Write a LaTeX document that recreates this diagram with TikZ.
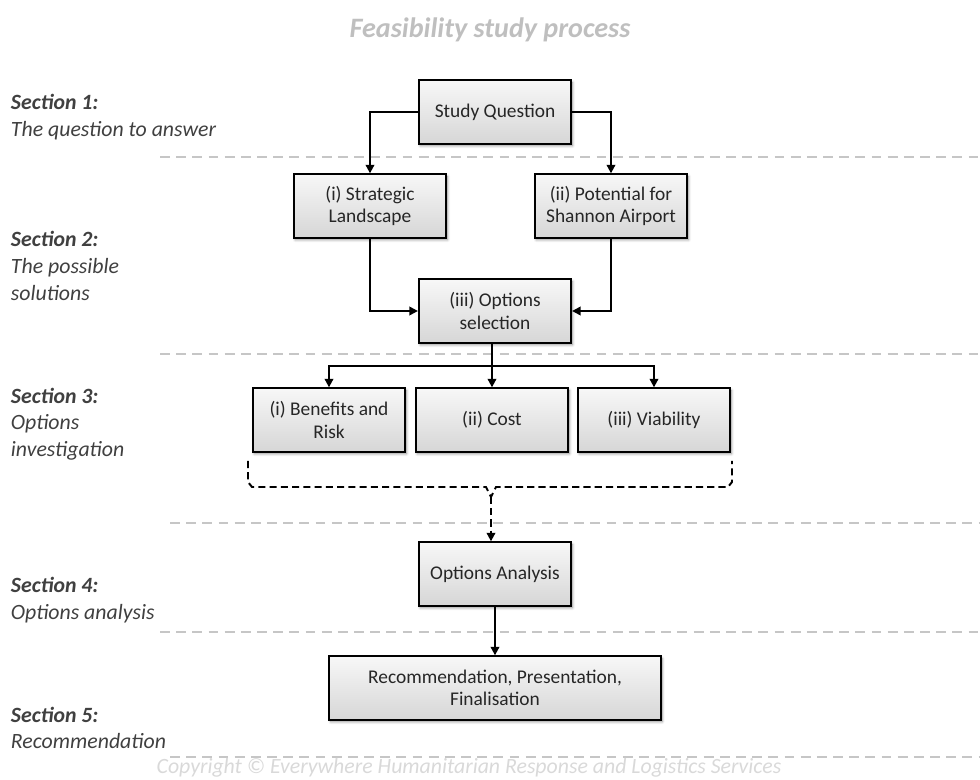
\documentclass[tikz,border=0pt]{standalone}
\usepackage{fontspec}
\setmainfont{Carlito}
\usepackage{tikz}
\usetikzlibrary{arrows.meta,positioning,calc,shadows.blur}

\begin{document}
\begin{tikzpicture}[
    x=0.025cm, y=-0.025cm,
    stage/.style={draw, line width=1.5pt, minimum width=3.8cm, minimum height=1.58cm, align=center,
        font=\fontsize{13.8}{16}\selectfont, text=black!85, top color=gray!6, bottom color=gray!32,
        blur shadow={shadow xshift=1pt, shadow yshift=-1.5pt, shadow blur steps=6, shadow opacity=45}},
    arr/.style={-{Triangle[length=6pt, width=6pt]}, line width=1.4pt},
    sect/.style={anchor=west, align=left, text=black!75, font=\fontsize{15.5}{19}\selectfont\itshape},
    divider/.style={gray!45, line width=1.5pt, dash pattern=on 7pt off 4.5pt}
]
\useasboundingbox (0,0) rectangle (980,780);

\node[font=\fontsize{20}{24}\selectfont\bfseries\itshape, text=gray!50] (title) at (490,30) {Feasibility study process};

% section labels
\node[sect] (s1) at (6,117) {\textbf{Section 1:}\\The question to answer};
\node[sect] (s2) at (6,266) {\textbf{Section 2:}\\The possible\\solutions};
\node[sect] (s3) at (6,424) {\textbf{Section 3:}\\Options\\investigation};
\node[sect] (s4) at (6,600) {\textbf{Section 4:}\\Options analysis};
\node[sect] (s5) at (6,728) {\textbf{Section 5:}\\Recommendation};

\draw[divider] (160,157) -- (980,157);
\draw[divider] (160,354) -- (980,354);
\draw[divider] (170,523) -- (980,523);
\draw[divider] (160,632) -- (980,632);
\draw[divider] (170,757) -- (980,757);

% boxes
\node[stage] (sq) at (495,112) {Study Question};
\node[stage] (strat) at (370,206) {(i) Strategic\\Landscape};
\node[stage] (shan) at (611,206) {(ii) Potential for\\Shannon Airport};
\node[stage] (opt) at (495,311) {(iii) Options\\selection};
\node[stage] (ben) at (329,420) {(i) Benefits and\\Risk};
\node[stage] (cost) at (492,420) {(ii) Cost};
\node[stage] (via) at (654,420) {(iii) Viability};
\node[stage] (ana) at (495,574) {Options Analysis};
\node[stage, minimum width=8.28cm] (rec) at (495,688) {Recommendation, Presentation,\\Finalisation};

% connectors
\draw[arr] (sq.west) -| (strat.north);
\draw[arr] (sq.east) -| (shan.north);
\draw[arr] (strat.south) |- (opt.west);
\draw[arr] (shan.south) |- (opt.east);

\coordinate (split) at (492,366);
\draw[line width=1.4pt] (opt.south -| split) -- (split);
\draw[arr] (split) -| (ben.north);
\draw[arr] (split) -- (cost.north);
\draw[arr] (split) -| (via.north);

\coordinate (dip) at (491,497);
\draw[line width=1.4pt, dash pattern=on 5pt off 3pt]
    (248,461) -- (248,482) -- (252,487) -- (486,487) -- (dip) -- (496,487) -- (728,487) -- (732,482) -- (732,461);
\draw[arr, dash pattern=on 5pt off 3pt] (dip) -- (dip |- ana.north);

\draw[arr] (ana) -- (rec);

\node[font=\fontsize{15.5}{18}\selectfont\itshape, text=gray!30, inner sep=0pt] (copy) at (469,768) {Copyright © Everywhere Humanitarian Response and Logistics Services};
\end{tikzpicture}
\end{document}
